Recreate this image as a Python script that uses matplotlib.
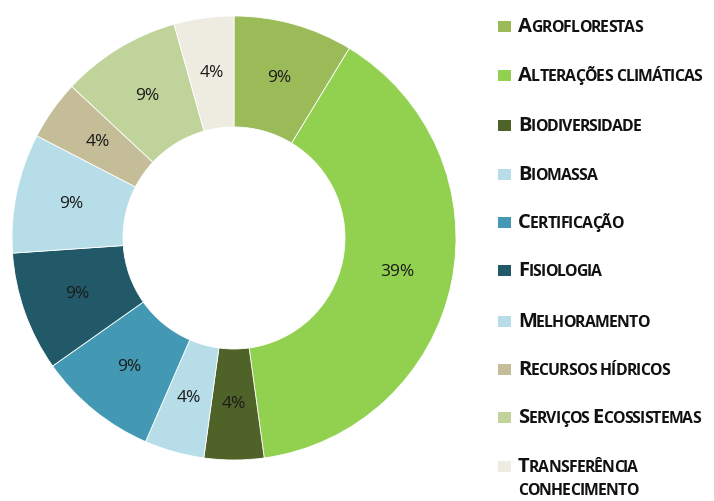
import matplotlib
matplotlib.use("Agg")
import matplotlib.pyplot as plt
from matplotlib.patches import Rectangle

# ---------------------------------------------------------------------------
# Data (counts per research theme; shown as rounded percentages)
# ---------------------------------------------------------------------------
themes = [
    "Agroflorestas",
    "Alterações climáticas",
    "Biodiversidade",
    "Biomassa",
    "Certificação",
    "Fisiologia",
    "Melhoramento",
    "Recursos hídricos",
    "Serviços Ecossistemas",
    "Transferência\nconhecimento",
]
counts = [2, 9, 1, 1, 2, 2, 2, 1, 2, 1]
colors = [
    "#9BBB59",
    "#92D050",
    "#4F6228",
    "#B7DEE8",
    "#4399B4",
    "#215968",
    "#B7DEE8",
    "#C4BD97",
    "#BFD39A",
    "#EEECE1",
]

W, H = 714, 501
fig = plt.figure(figsize=(W / 100, H / 100), dpi=100)

# donut
cx, cy, r = 234, 263, 222
ax = fig.add_axes([(cx - r) / W, (cy - r) / H, 2 * r / W, 2 * r / H])
wedges, texts, autotexts = ax.pie(
    counts,
    colors=colors,
    startangle=90,
    counterclock=False,
    radius=1,
    wedgeprops=dict(width=0.5, edgecolor="white", linewidth=0.6),
    autopct=lambda p: f"{p:.0f}%",
    pctdistance=0.75,
    textprops=dict(fontsize=12.5, color="#1a1a1a", family="Open Sans"),
)
ax.set_xlim(-1, 1)
ax.set_ylim(-1, 1)
ax.set_aspect("equal")
ax.axis("off")

# ---------------------------------------------------------------------------
# Legend drawn by hand (small caps look)
# ---------------------------------------------------------------------------
renderer = fig.canvas.get_renderer()
big, small = 14.5, 11.3
font = "Open Sans"


def small_caps(x, y, s, squeeze=0.0):
    """Draw s at pixel (x, y-from-top baseline) with small-caps styling."""
    for ch in s:
        if ch.isupper():
            size, txt = big, ch
        else:
            size, txt = small, ch.upper()
        if txt == " ":
            x += size * 0.35
            continue
        t = fig.text(x / W, 1 - y / H, txt, fontsize=size, fontweight="bold",
                     family=font, va="baseline", ha="left", color="#111111")
        x += t.get_window_extent(renderer).width - squeeze


legend_y = [32, 81, 131, 180, 228, 276, 327, 375, 423, 472]
for name, col, y in zip(themes, colors, legend_y):
    fig.patches.append(Rectangle((498 / W, 1 - y / H), 13 / W, 11 / H,
                                 transform=fig.transFigure, facecolor=col,
                                 edgecolor="none"))
    for i, line in enumerate(name.split("\n")):
        small_caps(518, y + i * 23, line, squeeze=0.8)

fig.savefig("out.png", dpi=100)
